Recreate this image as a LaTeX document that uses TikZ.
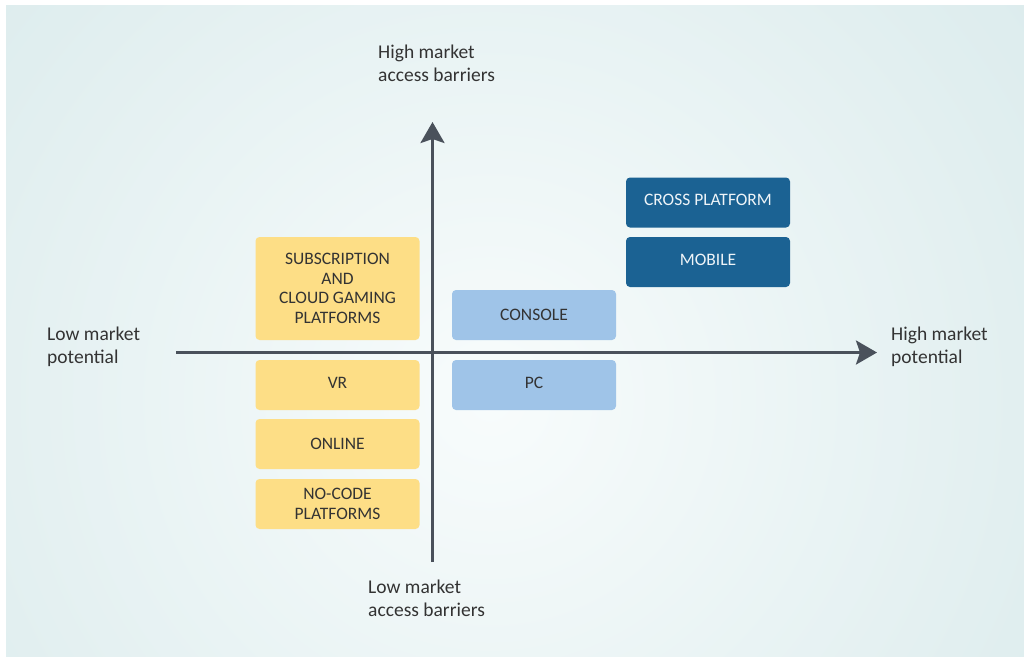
\documentclass[tikz,border=0pt]{standalone}
\usepackage{fontspec}
\setmainfont{Carlito}
\usetikzlibrary{arrows.meta}

\definecolor{bgin}{HTML}{F8FCFC}
\definecolor{bgmid}{HTML}{E0EEEF}
\definecolor{bgout}{HTML}{C8E0E2}
\definecolor{axisgray}{HTML}{4A515B}
\definecolor{txtdark}{HTML}{333333}
\definecolor{boxyellow}{HTML}{FDDE86}
\definecolor{boxlight}{HTML}{9FC4E8}
\definecolor{boxdark}{HTML}{1B6293}
\definecolor{txtlight}{HTML}{EEF4F8}

\pgfdeclareradialshading{bgglow}{\pgfpoint{0bp}{0bp}}{%
  color(0bp)=(bgin); color(11bp)=(bgmid); color(25bp)=(bgout); color(50bp)=(bgout)}

\tikzset{
  box/.style={draw=none, rounded corners=4pt, inner sep=0pt,
    minimum width=164pt, align=center, text=txtdark,
    font=\fontsize{17.5}{19.5}\selectfont},
  oneline/.style={text depth=5pt},
  yellowbox/.style={box, fill=boxyellow},
  lightbox/.style={box, fill=boxlight},
  darkbox/.style={box, fill=boxdark, text=txtlight},
  axislabel/.style={align=left, anchor=north west, inner sep=0pt, text=txtdark,
    font=\fontsize{19.5}{23}\selectfont},
  axis/.style={draw=axisgray, line width=3pt,
    -{Stealth[length=21pt, width=24pt, inset=4pt]}},
}

\begin{document}
\begin{tikzpicture}[x=1pt, y=-1pt]
  \useasboundingbox (0,0) rectangle (1024,657);

  % soft radial glow behind the chart
  \begin{scope}
    \clip (6,5) rectangle (1024,656);
    \shade[shading=bgglow] (490,400) circle (1300);
  \end{scope}

  % axes
  \coordinate (xstart) at (176,352.5);
  \coordinate (xend)   at (877,352.5);
  \coordinate (ystart) at (432.5,562);
  \coordinate (yend)   at (432.5,122);
  \draw[axis] (xstart) -- (xend);
  \draw[axis] (ystart) -- (yend);

  % axis labels
  \node[axislabel] (ytop)  at (378,45)  {High market\\access barriers};
  \node[axislabel] (ybot)  at (368,580) {Low market\\access barriers};
  \node[axislabel] (xleft) at (47,327)  {Low market\\potential};
  \node[axislabel] (xright) at (891,327) {High market\\potential};

  % low potential segments
  \node[yellowbox, minimum height=103pt] (sub) at (337.5,288.5)
    {SUBSCRIPTION\\AND\\CLOUD GAMING\\PLATFORMS};
  \node[yellowbox, oneline, minimum height=50pt] (vr) at (337.5,385) {VR};
  \node[yellowbox, minimum height=50pt] (online) at (337.5,444) {ONLINE};
  \node[yellowbox, minimum height=50pt] (nocode) at (337.5,504)
    {NO-CODE\\PLATFORMS};

  % middle segments
  \node[lightbox, minimum height=50pt] (console) at (534,315) {CONSOLE};
  \node[lightbox, oneline, minimum height=50pt] (pc) at (534,385) {PC};

  % high potential segments
  \node[darkbox, oneline, minimum height=50pt] (cross) at (708,202.5) {CROSS PLATFORM};
  \node[darkbox, oneline, minimum height=50pt] (mobile) at (708,262) {MOBILE};
\end{tikzpicture}
\end{document}
